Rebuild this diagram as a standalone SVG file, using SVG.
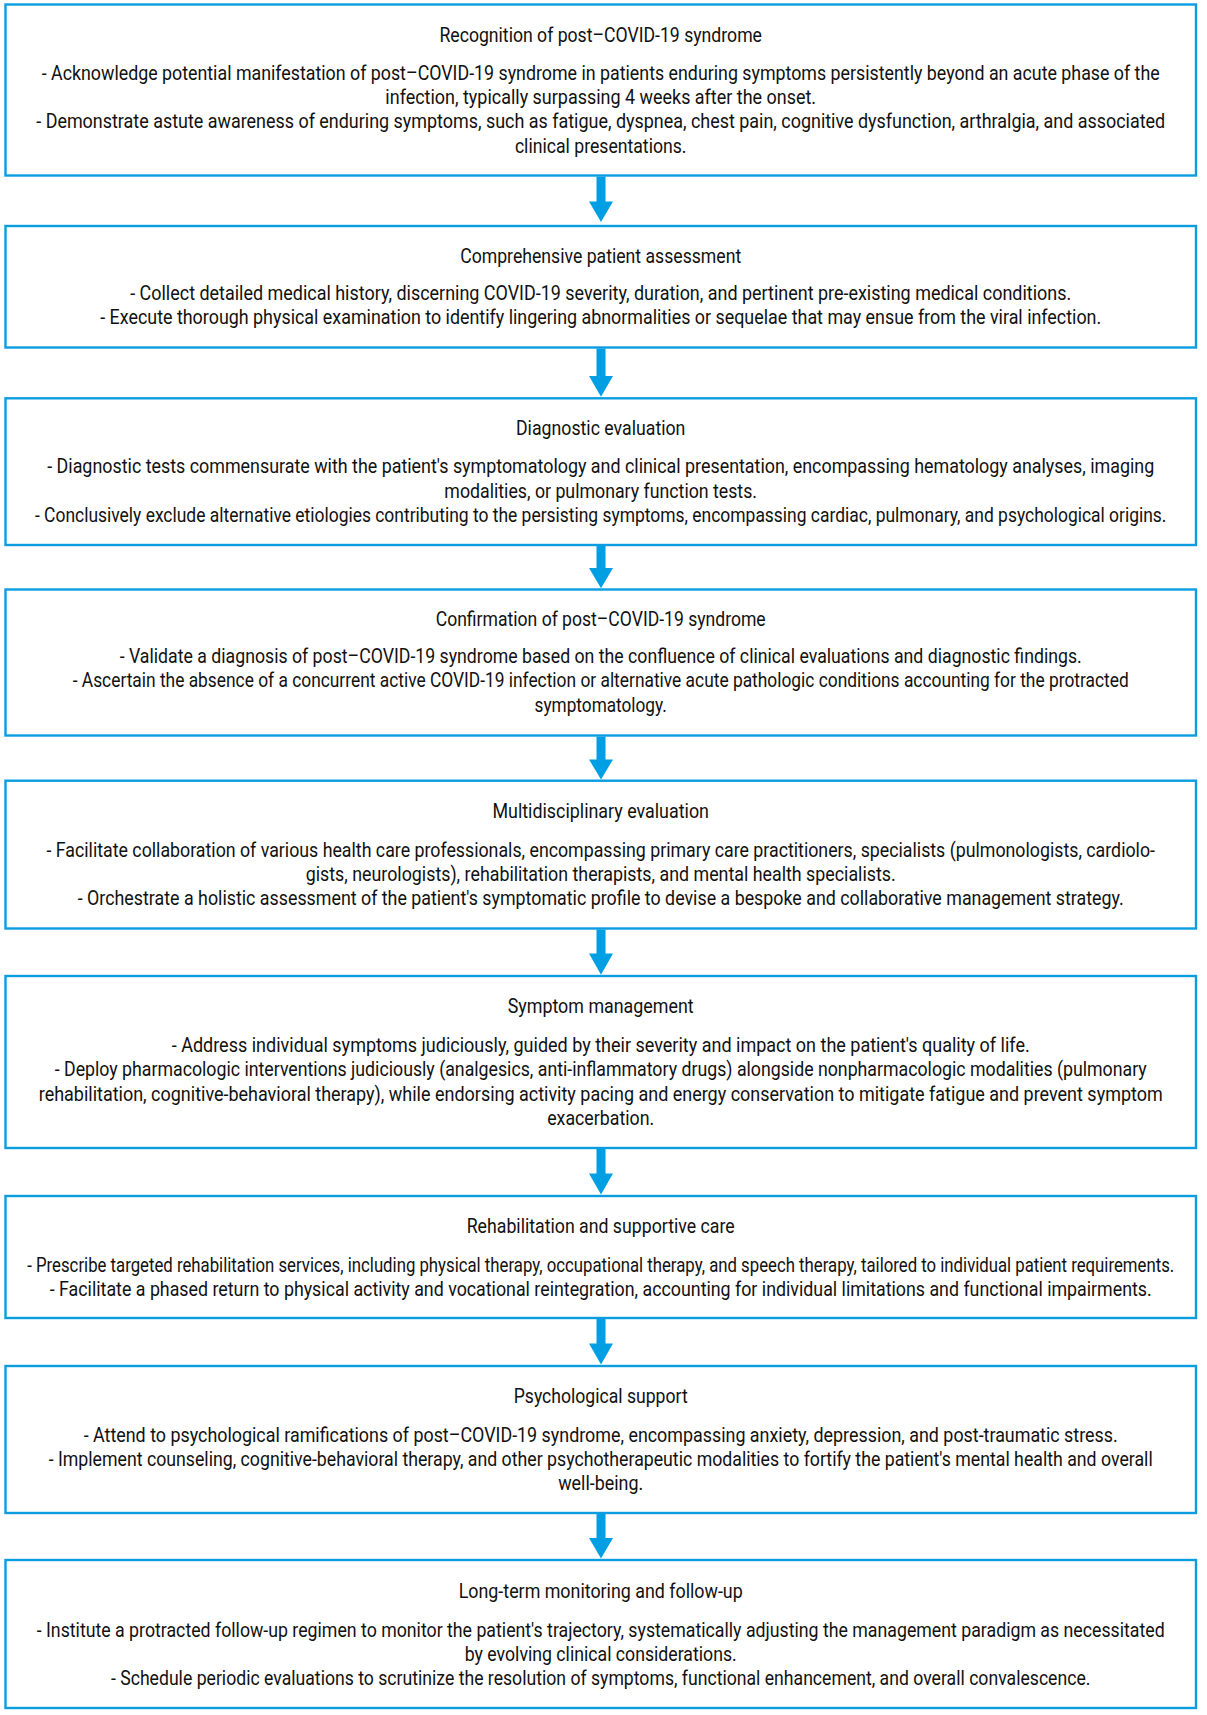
<svg xmlns="http://www.w3.org/2000/svg" width="1207" height="1715" viewBox="0 0 1207 1715">
<style>
.box{fill:#fff;stroke:#0B9DE0;stroke-width:2.4}
.t{font-family:Roboto,"Liberation Sans",sans-serif;font-size:20px;fill:#111;text-anchor:middle}
.arr{fill:#009FE3}
</style>
<rect width="1207" height="1715" fill="#fff"/>
<g id="connectors">
<path class="arr" d="M596.5,176.5 H605.5 V201.5 H613 L601,222 L589,201.5 H596.5 Z"/>
<path class="arr" d="M596.5,348.5 H605.5 V376 H613 L601,396.8 L589,376 H596.5 Z"/>
<path class="arr" d="M596.5,546 H605.5 V568 H613 L601,588.3 L589,568 H596.5 Z"/>
<path class="arr" d="M596.5,736.5 H605.5 V759.5 H613 L601,779.6 L589,759.5 H596.5 Z"/>
<path class="arr" d="M596.5,929.5 H605.5 V953.5 H613 L601,974.8 L589,953.5 H596.5 Z"/>
<path class="arr" d="M596.5,1149 H605.5 V1173.5 H613 L601,1194.5 L589,1173.5 H596.5 Z"/>
<path class="arr" d="M596.5,1319 H605.5 V1343.5 H613 L601,1364.5 L589,1343.5 H596.5 Z"/>
<path class="arr" d="M596.5,1514 H605.5 V1538 H613 L601,1558.6 L589,1538 H596.5 Z"/>
</g>
<g id="n1">
<rect class="box" x="5.5" y="4.5" width="1190.5" height="171"/>
<g transform="matrix(0.82 0 0 1 108.13 0)">
<text class="t" x="600.7" y="41.7" textLength="393.3" lengthAdjust="spacingAndGlyphs">Recognition of post–COVID-19 syndrome</text>
<text class="t" x="600.7" y="80" textLength="1363.4" lengthAdjust="spacingAndGlyphs">- Acknowledge potential manifestation of post–COVID-19 syndrome in patients enduring symptoms persistently beyond an acute phase of the</text>
<text class="t" x="600.7" y="104.3" textLength="525.2" lengthAdjust="spacingAndGlyphs">infection, typically surpassing 4 weeks after the onset.</text>
<text class="t" x="600.7" y="128.5" textLength="1376.8" lengthAdjust="spacingAndGlyphs">- Demonstrate astute awareness of enduring symptoms, such as fatigue, dyspnea, chest pain, cognitive dysfunction, arthralgia, and associated</text>
<text class="t" x="600.7" y="152.8" textLength="209.3" lengthAdjust="spacingAndGlyphs">clinical presentations.</text>
</g>
</g>
<g id="n2">
<rect class="box" x="5.5" y="226" width="1190.5" height="121.5"/>
<g transform="matrix(0.82 0 0 1 108.13 0)">
<text class="t" x="600.7" y="263" textLength="342.7" lengthAdjust="spacingAndGlyphs">Comprehensive patient assessment</text>
<text class="t" x="600.7" y="300" textLength="1147.6" lengthAdjust="spacingAndGlyphs">- Collect detailed medical history, discerning COVID-19 severity, duration, and pertinent pre-existing medical conditions.</text>
<text class="t" x="600.7" y="324.5" textLength="1220.7" lengthAdjust="spacingAndGlyphs">- Execute thorough physical examination to identify lingering abnormalities or sequelae that may ensue from the viral infection.</text>
</g>
</g>
<g id="n3">
<rect class="box" x="5.5" y="398.3" width="1190.5" height="146.7"/>
<g transform="matrix(0.82 0 0 1 108.13 0)">
<text class="t" x="600.7" y="435" textLength="206.6" lengthAdjust="spacingAndGlyphs">Diagnostic evaluation</text>
<text class="t" x="600.7" y="473.3" textLength="1350" lengthAdjust="spacingAndGlyphs">- Diagnostic tests commensurate with the patient's symptomatology and clinical presentation, encompassing hematology analyses, imaging</text>
<text class="t" x="600.7" y="497.8" textLength="381.3" lengthAdjust="spacingAndGlyphs">modalities, or pulmonary function tests.</text>
<text class="t" x="600.7" y="522" textLength="1379.9" lengthAdjust="spacingAndGlyphs">- Conclusively exclude alternative etiologies contributing to the persisting symptoms, encompassing cardiac, pulmonary, and psychological origins.</text>
</g>
</g>
<g id="n4">
<rect class="box" x="5.5" y="589.5" width="1190.5" height="146"/>
<g transform="matrix(0.82 0 0 1 108.13 0)">
<text class="t" x="600.7" y="626" textLength="402.4" lengthAdjust="spacingAndGlyphs">Confirmation of post–COVID-19 syndrome</text>
<text class="t" x="600.7" y="663" textLength="1173.2" lengthAdjust="spacingAndGlyphs">- Validate a diagnosis of post–COVID-19 syndrome based on the confluence of clinical evaluations and diagnostic findings.</text>
<text class="t" x="600.7" y="687.5" textLength="1287.8" lengthAdjust="spacingAndGlyphs">- Ascertain the absence of a concurrent active COVID-19 infection or alternative acute pathologic conditions accounting for the protracted</text>
<text class="t" x="600.7" y="712" textLength="161.3" lengthAdjust="spacingAndGlyphs">symptomatology.</text>
</g>
</g>
<g id="n5">
<rect class="box" x="5.5" y="780.7" width="1190.5" height="147.8"/>
<g transform="matrix(0.82 0 0 1 108.13 0)">
<text class="t" x="600.7" y="818" textLength="264" lengthAdjust="spacingAndGlyphs">Multidisciplinary evaluation</text>
<text class="t" x="600.7" y="857" textLength="1351.8" lengthAdjust="spacingAndGlyphs">- Facilitate collaboration of various health care professionals, encompassing primary care practitioners, specialists (pulmonologists, cardiolo-</text>
<text class="t" x="600.7" y="881.3" textLength="719.5" lengthAdjust="spacingAndGlyphs">gists, neurologists), rehabilitation therapists, and mental health specialists.</text>
<text class="t" x="600.7" y="905.5" textLength="1275.6" lengthAdjust="spacingAndGlyphs">- Orchestrate a holistic assessment of the patient's symptomatic profile to devise a bespoke and collaborative management strategy.</text>
</g>
</g>
<g id="n6">
<rect class="box" x="5.5" y="976" width="1190.5" height="172"/>
<g transform="matrix(0.82 0 0 1 108.13 0)">
<text class="t" x="600.7" y="1012.7" textLength="226.8" lengthAdjust="spacingAndGlyphs">Symptom management</text>
<text class="t" x="600.7" y="1052" textLength="1046.3" lengthAdjust="spacingAndGlyphs">- Address individual symptoms judiciously, guided by their severity and impact on the patient's quality of life.</text>
<text class="t" x="600.7" y="1076.3" textLength="1331.7" lengthAdjust="spacingAndGlyphs">- Deploy pharmacologic interventions judiciously (analgesics, anti-inflammatory drugs) alongside nonpharmacologic modalities (pulmonary</text>
<text class="t" x="600.7" y="1100.6" textLength="1370.7" lengthAdjust="spacingAndGlyphs">rehabilitation, cognitive-behavioral therapy), while endorsing activity pacing and energy conservation to mitigate fatigue and prevent symptom</text>
<text class="t" x="600.7" y="1125" textLength="130.5" lengthAdjust="spacingAndGlyphs">exacerbation.</text>
</g>
</g>
<g id="n7">
<rect class="box" x="5.5" y="1196" width="1190.5" height="122"/>
<g transform="matrix(0.82 0 0 1 108.13 0)">
<text class="t" x="600.7" y="1233" textLength="326.8" lengthAdjust="spacingAndGlyphs">Rehabilitation and supportive care</text>
<text class="t" x="600.7" y="1271.7" textLength="1398.8" lengthAdjust="spacingAndGlyphs">- Prescribe targeted rehabilitation services, including physical therapy, occupational therapy, and speech therapy, tailored to individual patient requirements.</text>
<text class="t" x="600.7" y="1296" textLength="1343.9" lengthAdjust="spacingAndGlyphs">- Facilitate a phased return to physical activity and vocational reintegration, accounting for individual limitations and functional impairments.</text>
</g>
</g>
<g id="n8">
<rect class="box" x="5.5" y="1366" width="1190.5" height="147"/>
<g transform="matrix(0.82 0 0 1 108.13 0)">
<text class="t" x="600.7" y="1402.7" textLength="212.2" lengthAdjust="spacingAndGlyphs">Psychological support</text>
<text class="t" x="600.7" y="1441.7" textLength="1261" lengthAdjust="spacingAndGlyphs">- Attend to psychological ramifications of post–COVID-19 syndrome, encompassing anxiety, depression, and post-traumatic stress.</text>
<text class="t" x="600.7" y="1466" textLength="1346.3" lengthAdjust="spacingAndGlyphs">- Implement counseling, cognitive-behavioral therapy, and other psychotherapeutic modalities to fortify the patient's mental health and overall</text>
<text class="t" x="600.7" y="1490.5" textLength="103.7" lengthAdjust="spacingAndGlyphs">well-being.</text>
</g>
</g>
<g id="n9">
<rect class="box" x="5.5" y="1560" width="1190.5" height="148"/>
<g transform="matrix(0.82 0 0 1 108.13 0)">
<text class="t" x="600.7" y="1598" textLength="346.3" lengthAdjust="spacingAndGlyphs">Long-term monitoring and follow-up</text>
<text class="t" x="600.7" y="1637" textLength="1375.6" lengthAdjust="spacingAndGlyphs">- Institute a protracted follow-up regimen to monitor the patient's trajectory, systematically adjusting the management paradigm as necessitated</text>
<text class="t" x="600.7" y="1661.5" textLength="331.7" lengthAdjust="spacingAndGlyphs">by evolving clinical considerations.</text>
<text class="t" x="600.7" y="1685.5" textLength="1194.5" lengthAdjust="spacingAndGlyphs">- Schedule periodic evaluations to scrutinize the resolution of symptoms, functional enhancement, and overall convalescence.</text>
</g>
</g>
</svg>
